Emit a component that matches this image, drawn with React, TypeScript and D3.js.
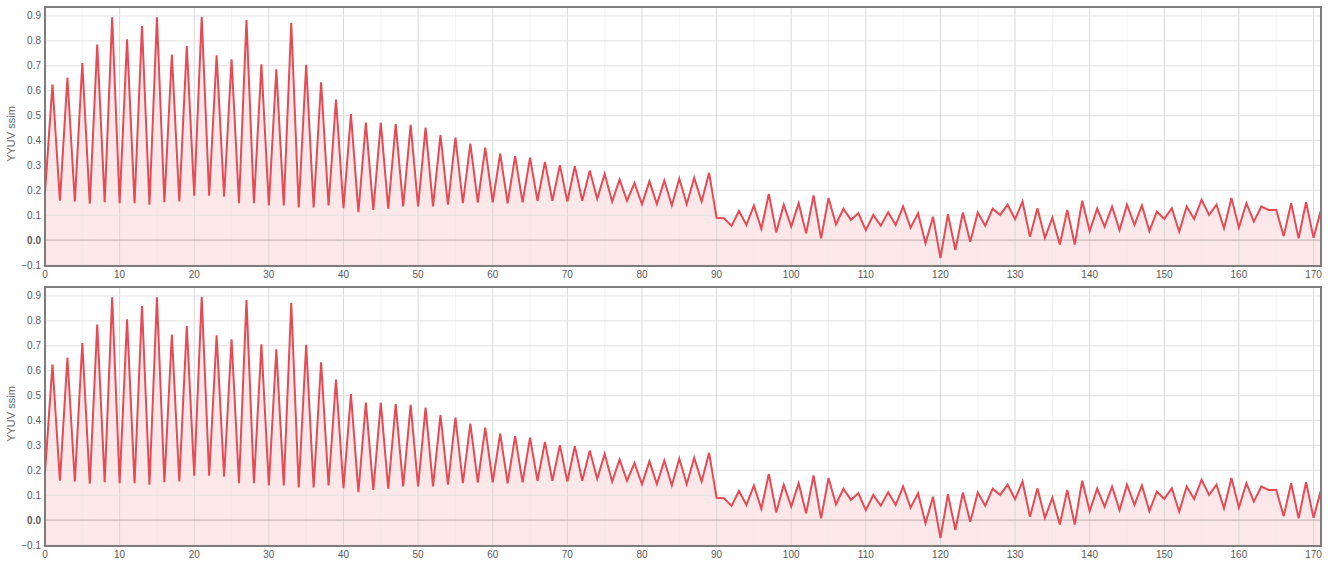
import React from "react";
import * as d3 from "d3";

const ssimValues: number[] = [
  0.19, 0.625, 0.158, 0.652, 0.155, 0.711, 0.146, 0.785, 0.152, 0.895,
  0.148, 0.806, 0.148, 0.86, 0.142, 0.895, 0.152, 0.745, 0.155, 0.779,
  0.178, 0.897, 0.178, 0.742, 0.175, 0.726, 0.148, 0.884, 0.148, 0.706,
  0.139, 0.686, 0.139, 0.873, 0.131, 0.704, 0.131, 0.634, 0.139, 0.564,
  0.128, 0.506, 0.112, 0.472, 0.121, 0.472, 0.126, 0.466, 0.135, 0.463,
  0.135, 0.452, 0.135, 0.422, 0.142, 0.412, 0.148, 0.387, 0.151, 0.371,
  0.152, 0.347, 0.148, 0.337, 0.152, 0.331, 0.158, 0.314, 0.158, 0.301,
  0.155, 0.297, 0.158, 0.279, 0.166, 0.266, 0.155, 0.243, 0.158, 0.229,
  0.144, 0.236, 0.145, 0.239, 0.139, 0.247, 0.144, 0.25, 0.155, 0.27,
  0.09, 0.088, 0.057, 0.117, 0.061, 0.139, 0.045, 0.185, 0.031, 0.142,
  0.054, 0.148, 0.027, 0.179, 0.007, 0.169, 0.063, 0.126, 0.081, 0.108,
  0.04, 0.101, 0.058, 0.112, 0.061, 0.135, 0.05, 0.108, -0.013, 0.094,
  -0.072, 0.104, -0.04, 0.111, -0.007, 0.111, 0.058, 0.126, 0.101, 0.142,
  0.084, 0.155, 0.013, 0.128, 0.009, 0.09, -0.018, 0.121, -0.018, 0.158,
  0.036, 0.126, 0.054, 0.135, 0.04, 0.142, 0.061, 0.139, 0.036, 0.115,
  0.085, 0.128, 0.034, 0.135, 0.085, 0.162, 0.101, 0.142, 0.047, 0.169,
  0.05, 0.148, 0.074, 0.135, 0.121, 0.121, 0.016, 0.148, 0.007, 0.152,
  0.009, 0.121,
];

const xTicks: number[] = [0, 10, 20, 30, 40, 50, 60, 70, 80, 90, 100, 110, 120, 130, 140, 150, 160, 170];
const yTicks: number[] = [-0.1, 0, 0.1, 0.2, 0.3, 0.4, 0.5, 0.6, 0.7, 0.8, 0.9];
const xMinorTicks: number[] = [5, 15, 25, 35, 45, 55, 65, 75, 85, 95, 105, 115, 125, 135, 145, 155, 165];
const yAxisTitle = "YYUV ssim";
const panels: string[] = ["top", "bottom"];

const W = 1328;
const H = 561;
const LEFT = 45;
const RIGHT = 1321;
const PANEL_H = 259;
const PANEL_TOPS = [7, 287];
const FONT = "'Liberation Sans', Arial, sans-serif";

function Panel({ top, data }: { top: number; data: number[] }) {
  const bottom = top + PANEL_H;
  const x = d3.scaleLinear().domain([0, 171]).range([LEFT, RIGHT]);
  const y = d3.scaleLinear().domain([-0.104, 0.936]).range([bottom, top]);
  const pts = data.map((v, i) => [i, v] as [number, number]);
  const line = d3
    .line<[number, number]>()
    .x((d) => x(d[0]))
    .y((d) => y(d[1]));
  const area = d3
    .area<[number, number]>()
    .x((d) => x(d[0]))
    .y0(bottom)
    .y1((d) => y(d[1]));
  const clipId = `clip-${top}`;
  return (
    <g>
      <defs>
        <clipPath id={clipId}>
          <rect x={LEFT} y={top} width={RIGHT - LEFT} height={PANEL_H} />
        </clipPath>
      </defs>
      <rect x={LEFT} y={top} width={RIGHT - LEFT} height={PANEL_H} fill="#ffffff" />
      <g clipPath={`url(#${clipId})`}>
        <path d={area(pts) || ""} fill="#fde8e9" />
        {xMinorTicks.map((t) => (
          <line key={`mx${t}`} x1={x(t)} x2={x(t)} y1={top} y2={bottom} stroke="#e6e6e6" strokeWidth={0.8} opacity={0.5} />
        ))}
        {xTicks.map((t) => (
          <line key={`gx${t}`} x1={x(t)} x2={x(t)} y1={top} y2={bottom} stroke="#d8d8d8" strokeWidth={1} />
        ))}
        {yTicks.map((t) => (
          <line
            key={`gy${t}`}
            x1={LEFT}
            x2={RIGHT}
            y1={y(t)}
            y2={y(t)}
            stroke={t === 0 ? "#c6b8b8" : "#e4e0e0"}
            strokeWidth={t === 0 ? 1.4 : 1}
          />
        ))}
        <path d={line(pts) || ""} fill="none" stroke="#e64a55" strokeWidth={2} strokeLinejoin="miter" />
      </g>
      <rect x={LEFT} y={top} width={RIGHT - LEFT} height={PANEL_H} fill="none" stroke="#7d7d7d" strokeWidth={2} />
      {yTicks.map((t) => (
        <text
          key={`ty${t}`}
          x={41}
          y={y(t)}
          dy="0.35em"
          textAnchor="end"
          fontSize={10}
          fontFamily={FONT}
          fill="#5a5a5a"
          fontWeight={t === 0 ? 700 : 400}
        >
          {d3.format(".1f")(t)}
        </text>
      ))}
      {xTicks.map((t) => (
        <text
          key={`tx${t}`}
          x={x(t)}
          y={bottom + 12}
          textAnchor="middle"
          fontSize={10}
          fontFamily={FONT}
          fill="#5a5a5a"
        >
          {t}
        </text>
      ))}
      <text
        transform={`translate(15, ${top + 127}) rotate(-90)`}
        textAnchor="middle"
        fontSize={11}
        fontFamily={FONT}
        fill="#666"
      >
        {yAxisTitle}
      </text>
    </g>
  );
}

export default function App() {
  return (
    <div style={{ position: "absolute", left: 0, top: 0 }}>
      <svg width={W} height={H} style={{ display: "block", background: "#fff" }}>
        {panels.map((p, i) => (
          <Panel key={p} top={PANEL_TOPS[i]} data={ssimValues} />
        ))}
      </svg>
    </div>
  );
}
